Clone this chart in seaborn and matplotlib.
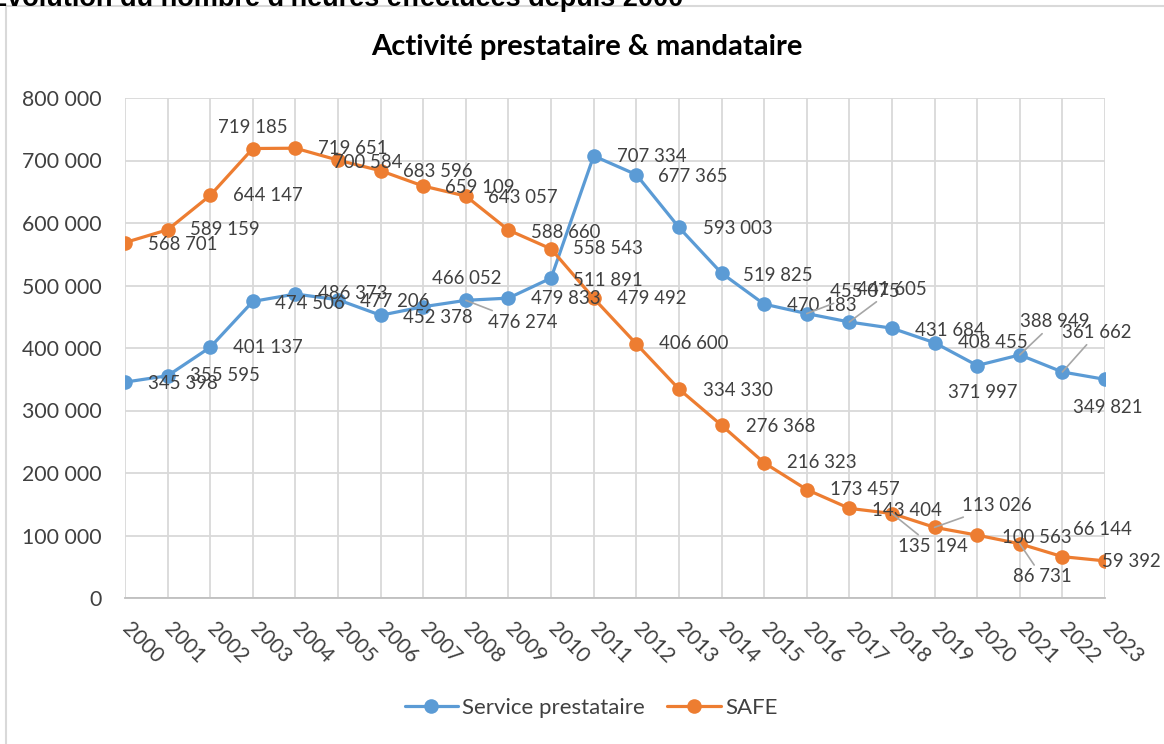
import seaborn as sns
import pandas as pd
import matplotlib.pyplot as plt
from matplotlib.patches import Rectangle

years = list(range(2000, 2024))
service = [345398, 355595, 401137, 474506, 486373, 477206, 452378, 466052,
           476274, 479833, 511891, 707334, 677365, 593003, 519825, 470183,
           455075, 441605, 431684, 408455, 371997, 388949, 361662, 349821]
safe = [568701, 589159, 644147, 719185, 719651, 700584, 683596, 659109,
        643057, 588660, 558543, 479492, 406600, 334330, 276368, 216323,
        173457, 143404, 135194, 113026, 100563, 86731, 66144, 59392]
series_names = ["Service prestataire", "SAFE"]
y_ticks = [0, 100000, 200000, 300000, 400000, 500000, 600000, 700000, 800000]

# label offsets (pixels, left edge of text / vertical centre) copied from the Excel layout
off_service = [(23, -1), (22, 0), (23, 0), (22, -2), (23, 1), (22, -2), (22, -2), (9, 28),
               (22, -22), (23, 0), (22, -2), (23, -1), (22, -2), (24, -1), (21, -2), (23, -1),
               (23, 22), (8, 32), (23, -2), (23, 0), (-29, -27), (0, 33), (0, 39), (-32, -28)]
off_safe = [(23, -2), (22, 0), (23, 0), (None, 21), (23, 0), (-5, -2), (22, -1), (22, -1),
            (22, -1), (23, -2), (22, 0), (23, 0), (23, 0), (24, -1), (24, -1), (23, 0),
            (23, 0), (23, -2), (6, -33), (27, 22), (25, -2), (-7, -33), (11, 27), (-3, -1)]
lead_service = {8, 16, 17, 21, 22}
lead_safe = {18, 19, 21}

df = pd.DataFrame({
    "year": years * 2,
    "value": service + safe,
    "serie": [series_names[0]] * len(years) + [series_names[1]] * len(years),
})

blue = "#5B9BD5"
orange = "#ED7D31"
txt = "#404040"
grid = "#D9D9D9"

sns.set_style("white")
plt.rcParams['font.family'] = ['Lato', 'DejaVu Sans']

fig = plt.figure(figsize=(11.64, 7.44), dpi=100)
ax = fig.add_axes([125 / 1164, 146 / 744, 980 / 1164, 500 / 744])

sns.lineplot(data=df, x="year", y="value", hue="serie", palette=[blue, orange],
             marker="o", markersize=10.5, markeredgewidth=0, linewidth=2.3, ax=ax)

ax.set_xlim(2000, 2023)
ax.set_ylim(0, 800000)
ax.set_xticks(years)
ax.set_xticklabels([str(y) for y in years], rotation=-45, ha="left", va="center",
                   rotation_mode="anchor", fontsize=15, color=txt)
ax.set_yticks(y_ticks)
ax.set_yticklabels([f"{v:,}".replace(",", " ") for v in y_ticks], fontsize=15.3, color=txt)
ax.tick_params(axis="y", length=0, pad=17)
ax.tick_params(axis="x", length=7, width=1.2, color="#BFBFBF", pad=13, direction="out")
ax.grid(True, color=grid, linewidth=1.3)
for s in ["top", "right", "left"]:
    ax.spines[s].set_visible(False)
ax.spines["bottom"].set_color("#BFBFBF")
ax.spines["bottom"].set_linewidth(1.3)
ax.set_xlabel("")
ax.set_ylabel("")


def put_labels(vals, offs, leads):
    for i, (x, v) in enumerate(zip(years, vals)):
        dx, dy = offs[i]
        lab = f"{v:,}".replace(",", " ")
        ha = "left"
        if dx is None:
            dx, ha = 0, "center"
        arrow = None
        if i in leads:
            arrow = dict(arrowstyle="-", color="#A6A6A6", lw=1.2, shrinkA=0, shrinkB=0)
        ax.annotate(lab, (x, v), xytext=(dx, dy), textcoords="offset pixels",
                    ha=ha, va="center", fontsize=13.4, color=txt, arrowprops=arrow,
                    annotation_clip=False)


put_labels(service, off_service, lead_service)
put_labels(safe, off_safe, lead_safe)

ax.legend_.remove()
handles, labels = ax.get_legend_handles_labels()
fig.legend(handles, labels, loc="center", bbox_to_anchor=(591 / 1164, 1 - 708 / 744),
           ncol=2, frameon=False, fontsize=16, handlelength=2.4, columnspacing=1.0,
           handletextpad=0.2, labelcolor=txt)

fig.text(587 / 1164, 1 - 47 / 744, "Activité prestataire & mandataire", ha="center",
         va="center", fontsize=21, fontweight="bold", color="black")

# chart area border and clipped heading above
fig.patches.append(Rectangle((6 / 1164, -0.1), 1.2, 1 - 6 / 744 + 0.1, transform=fig.transFigure,
                             fill=False, edgecolor=grid, linewidth=1.5))
fig.text(683 / 1164, 1 - 6 / 744, "Évolution du nombre d'heures effectuées depuis 2000",
         ha="right", va="baseline", fontsize=19.5, fontweight="bold", color="black",
         family=["Liberation Sans", "DejaVu Sans"])

fig.savefig("out.png", dpi=100)
